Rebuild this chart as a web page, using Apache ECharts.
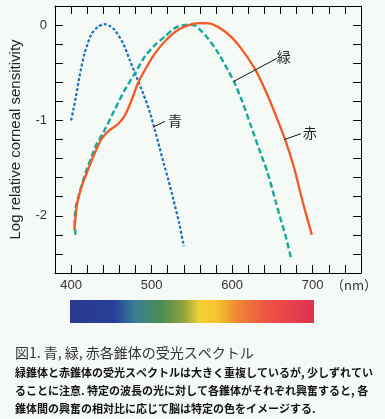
<!DOCTYPE html>
<html>
<head>
<meta charset="utf-8">
<script src="https://cdn.jsdelivr.net/npm/echarts@6/dist/echarts.min.js"></script>
<style>
html,body{margin:0;padding:0;background:#f6faf7;}
#c{width:385px;height:419px;}
</style>
</head>
<body>
<div id="c"></div>
<script>
// ---- data (wavelength nm, log relative corneal sensitivity) ----
var blueData = [[400,-1.00],[403,-0.88],[406,-0.75],[410.4,-0.54],[416.6,-0.30],[425,-0.10],[433,-0.02],[441,0.01],[448,-0.01],[454,-0.05],[464.5,-0.19],[473,-0.37],[481,-0.54],[489.6,-0.72],[498,-0.92],[504,-1.10],[510,-1.29],[515,-1.45],[521,-1.63],[527,-1.83],[534,-2.07],[540,-2.32]];
var greenData = [[405.4,-2.20],[404.5,-2.06],[406,-1.90],[410.4,-1.76],[414.5,-1.64],[418.7,-1.53],[425,-1.39],[431,-1.26],[441.6,-1.10],[454,-0.89],[466.6,-0.68],[479,-0.51],[491.6,-0.33],[504,-0.21],[516.6,-0.12],[529,-0.03],[541.6,0.00],[552,0.00],[562.5,-0.07],[570,-0.14],[581,-0.27],[592,-0.43],[602,-0.59],[612.5,-0.80],[623,-1.05],[633,-1.29],[643.7,-1.54],[654,-1.85],[660,-2.03],[666.6,-2.22],[673,-2.44]];
var redData = [[404,-2.15],[405.4,-2.02],[407,-1.90],[410.4,-1.77],[414.5,-1.66],[419.5,-1.55],[427,-1.39],[437.5,-1.20],[448,-1.10],[458,-1.04],[466.6,-0.95],[475,-0.79],[483,-0.61],[493.7,-0.44],[504,-0.30],[516.6,-0.17],[533,-0.05],[550,0.01],[562.5,0.02],[575,0.01],[591.6,-0.07],[608,-0.21],[629,-0.47],[645.7,-0.77],[658,-1.03],[666.6,-1.22],[677,-1.50],[687.5,-1.85],[699,-2.20]];

var xTickLabels = [400, 500, 600, 700];
var yTickLabels = [0, -1, -2];

var annoNames = ['緑', '赤', '青'];
var annoLabelPos = [[664,-0.33],[696.5,-1.13],[529,-1.00]];
var annoLineFrom = [[655.4,-0.35],[685.4,-1.14],[516.6,-1.01]];
var annoLineTo = [[602,-0.59],[664.5,-1.20],[502,-1.07]];

var captionTitle = '図1. 青, 緑, 赤各錐体の受光スペクトル';
var captionLines = [
  '緑錐体と赤錐体の受光スペクトルは大きく重複しているが, 少しずれてい',
  'ることに注意. 特定の波長の光に対して各錐体がそれぞれ興奮すると, 各',
  '錐体間の興奮の相対比に応じて脳は特定の色をイメージする.'
];

// ---- chart ----
var chart = echarts.init(document.getElementById('c'), null, {renderer:'canvas'});
var sansFont = '"Liberation Sans", Arial, sans-serif';
var cjkFont = '"Noto Sans CJK JP", sans-serif';

function xAx(pos, showLabel){
  return {
    type:'value', position:pos, min:380, max:760, interval:20,
    axisLine:{show:true, onZero:false, lineStyle:{color:'#000', width:1}},
    axisTick:{show:true, inside:true, length:8, lineStyle:{color:'#000', width:1}},
    splitLine:{show:false},
    axisLabel:{show:showLabel, margin:6, color:'#333', fontSize:13, fontFamily:sansFont,
      formatter:function(v){ return xTickLabels.indexOf(Math.round(v))>=0 && Math.abs(v-Math.round(v))<1e-6 ? String(Math.round(v)) : ''; }}
  };
}
function yAx(pos, showLabel){
  var a = {
    type:'value', position:pos, min:-2.6, max:0.2, interval:0.2,
    axisLine:{show:true, onZero:false, lineStyle:{color:'#000', width:1}},
    axisTick:{show:true, inside:true, length:8, lineStyle:{color:'#000', width:1}},
    splitLine:{show:false},
    axisLabel:{show:showLabel, margin:8, color:'#333', fontSize:13, fontFamily:sansFont,
      formatter:function(v){ var r=Math.round(v); return (Math.abs(v-r)<1e-6 && yTickLabels.indexOf(r)>=0) ? String(r===0?0:r) : ''; }}
  };
  if (showLabel) {
    a.name = 'Log relative corneal sensitivity';
    a.nameLocation = 'middle';
    a.nameGap = 32;
    a.nameTextStyle = {color:'#222', fontSize:15, fontFamily:sansFont};
  }
  return a;
}

var markLines = [];
for (var i=0;i<annoNames.length;i++){
  markLines.push([{coord:annoLineFrom[i]},{coord:annoLineTo[i]}]);
}
var markPoints = [];
for (var j=0;j<annoNames.length;j++){
  markPoints.push({coord:annoLabelPos[j], value:annoNames[j]});
}

var option = {
  backgroundColor:'#f6faf7',
  animation:false,
  grid:{left:54, right:24, top:6, bottom:146, containLabel:false},
  xAxis:[xAx('bottom', true), xAx('top', false)],
  yAxis:[yAx('left', true), yAx('right', false)],
  series:[
    {type:'line', name:'blue', data:blueData, showSymbol:false, smooth:0.25, xAxisIndex:0, yAxisIndex:0,
      lineStyle:{color:'#1a6fbf', width:2.2, type:[3,2]}},
    {type:'line', name:'green', data:greenData, showSymbol:false, smooth:0.25, xAxisIndex:0, yAxisIndex:0,
      lineStyle:{color:'#14a89b', width:2.4, type:[6,3]}},
    {type:'line', name:'red', data:redData, showSymbol:false, smooth:0.25, xAxisIndex:0, yAxisIndex:0,
      lineStyle:{color:'#f05a24', width:2.3},
      markLine:{silent:true, symbol:['none','none'], label:{show:false},
        lineStyle:{color:'#111', width:1, type:'solid'}, data:markLines},
      markPoint:{silent:true, symbol:'circle', symbolSize:0, data:markPoints,
        label:{show:true, position:'inside', formatter:'{c}', color:'#222', fontSize:14, fontFamily:cjkFont}}
    }
  ],
  graphic:[
    {type:'text', left:331, top:279, style:{text:'（nm）', fill:'#333', font:'13px ' + cjkFont}},
    {type:'rect', shape:{x:70, y:300, width:244, height:23},
      style:{fill:new echarts.graphic.LinearGradient(0,0,1,0,[
        {offset:0, color:'#2b3a8e'},
        {offset:0.18, color:'#27409a'},
        {offset:0.27, color:'#3a7f95'},
        {offset:0.37, color:'#4a8c55'},
        {offset:0.46, color:'#8a9f3f'},
        {offset:0.53, color:'#f2d035'},
        {offset:0.60, color:'#f5c530'},
        {offset:0.68, color:'#f08a35'},
        {offset:0.80, color:'#ef5542'},
        {offset:1, color:'#e0304f'}
      ])}},
    {type:'text', x:15, y:353, style:{text:captionTitle, fill:'#333', font:'14px ' + cjkFont, textVerticalAlign:'middle'}},
    {type:'text', x:15, y:373, style:{text:captionLines[0], fill:'#111', font:'bold 11px ' + cjkFont, textVerticalAlign:'middle'}},
    {type:'text', x:15, y:391, style:{text:captionLines[1], fill:'#111', font:'bold 11px ' + cjkFont, textVerticalAlign:'middle'}},
    {type:'text', x:15, y:409, style:{text:captionLines[2], fill:'#111', font:'bold 11px ' + cjkFont, textVerticalAlign:'middle'}}
  ]
};
chart.setOption(option);
</script>
</body>
</html>
